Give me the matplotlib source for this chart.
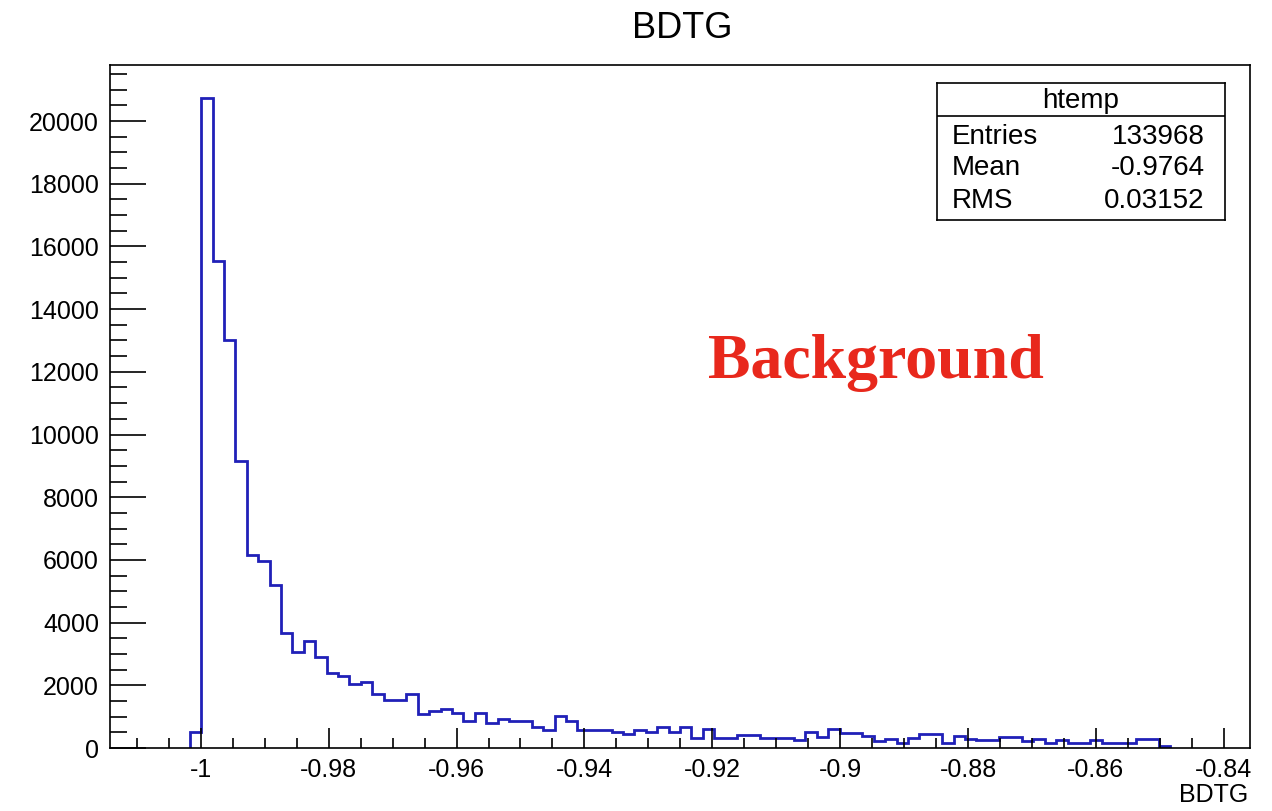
import numpy as np
import matplotlib.pyplot as plt
from matplotlib.ticker import MultipleLocator, FuncFormatter

# BDTG response, 100 equal bins between x_min and x_max
x_min = -1.0142
x_max = -0.8359
n_bins = 100

counts = [
    0, 0, 0, 0, 0, 0, 0, 500, 20750, 15550,
    13000, 9150, 6150, 5970, 5200, 3660, 3070, 3420, 2910, 2400,
    2310, 2030, 2110, 1710, 1520, 1520, 1710, 1100, 1170, 1250,
    1120, 850, 1120, 800, 930, 850, 850, 670, 590, 1010,
    850, 590, 590, 590, 510, 460, 590, 510, 670, 510,
    670, 320, 610, 320, 320, 430, 430, 320, 320, 320,
    245, 500, 340, 610, 480, 480, 370, 210, 290, 160,
    320, 460, 460, 160, 370, 290, 245, 245, 340, 340,
    210, 290, 160, 270, 160, 160, 245, 160, 160, 160,
    290, 290, 75, 0, 0, 0, 0, 0, 0, 0,
]

# stats box
hist_name = 'htemp'
entries = 133968
mean = -0.9764
rms = 0.03152

W, H = 1272, 811
plt.rcParams['font.family'] = ['Liberation Sans', 'DejaVu Sans']
plt.rcParams['axes.unicode_minus'] = False

fig = plt.figure(figsize=(W / 100, H / 100), dpi=100)
ax = fig.add_axes([110 / W, 1 - 748 / H, 1140 / W, 683 / H])

edges = np.linspace(x_min, x_max, n_bins + 1)
counts = np.array(counts, dtype=float)
filled = np.nonzero(counts)[0]
lo, hi = filled[0], filled[-1] + 1
ax.stairs(counts[lo:hi], edges[lo:hi + 1], color='#2020b8', lw=2.0, baseline=0)

ax.set_xlim(x_min, x_max)
ax.set_ylim(0, counts.max() * 1.05)

fmt = FuncFormatter(lambda v, p: f'{v:g}')
ax.xaxis.set_major_locator(MultipleLocator(0.02))
ax.xaxis.set_minor_locator(MultipleLocator(0.005))
ax.yaxis.set_major_locator(MultipleLocator(2000))
ax.yaxis.set_minor_locator(MultipleLocator(500))
ax.xaxis.set_major_formatter(fmt)
ax.yaxis.set_major_formatter(fmt)

ax.tick_params(which='both', direction='in', top=False, right=False,
               width=1.2, labelsize=18, colors='black')
ax.tick_params(axis='x', which='major', length=14.5, pad=7)
ax.tick_params(axis='x', which='minor', length=7)
ax.tick_params(axis='y', which='major', length=26, pad=8)
ax.tick_params(axis='y', which='minor', length=12.5)
for s in ax.spines.values():
    s.set_linewidth(1.2)

fig.text(682 / W, 1 - 29 / H, 'BDTG', ha='center', va='center', fontsize=26)
fig.text(1248 / W, 1 - 795 / H, 'BDTG', ha='right', va='center', fontsize=18)

fig.text(876 / W, 1 - 378 / H, 'Background', ha='center', va='baseline',
         fontsize=46, fontweight='bold', family='Liberation Serif', color='#e8281c')

# stats box in the upper right corner
sax = fig.add_axes([937 / W, 1 - 220 / H, 288 / W, 137 / H])
sax.set_xticks([])
sax.set_yticks([])
for s in sax.spines.values():
    s.set_linewidth(1.2)
sax.axhline(0.756, color='black', lw=1.2)
sax.text(0.5, 0.865, hist_name, ha='center', va='center', fontsize=20)
rows = [('Entries', f'{entries}'), ('Mean', f'{mean:.4f}'), ('RMS', f'{rms:.5f}')]
for (name, val), yy in zip(rows, [0.607, 0.380, 0.139]):
    sax.text(0.051, yy, name, ha='left', va='center', fontsize=20)
    sax.text(0.930, yy, val, ha='right', va='center', fontsize=20)

fig.savefig('out.png', dpi=100)
